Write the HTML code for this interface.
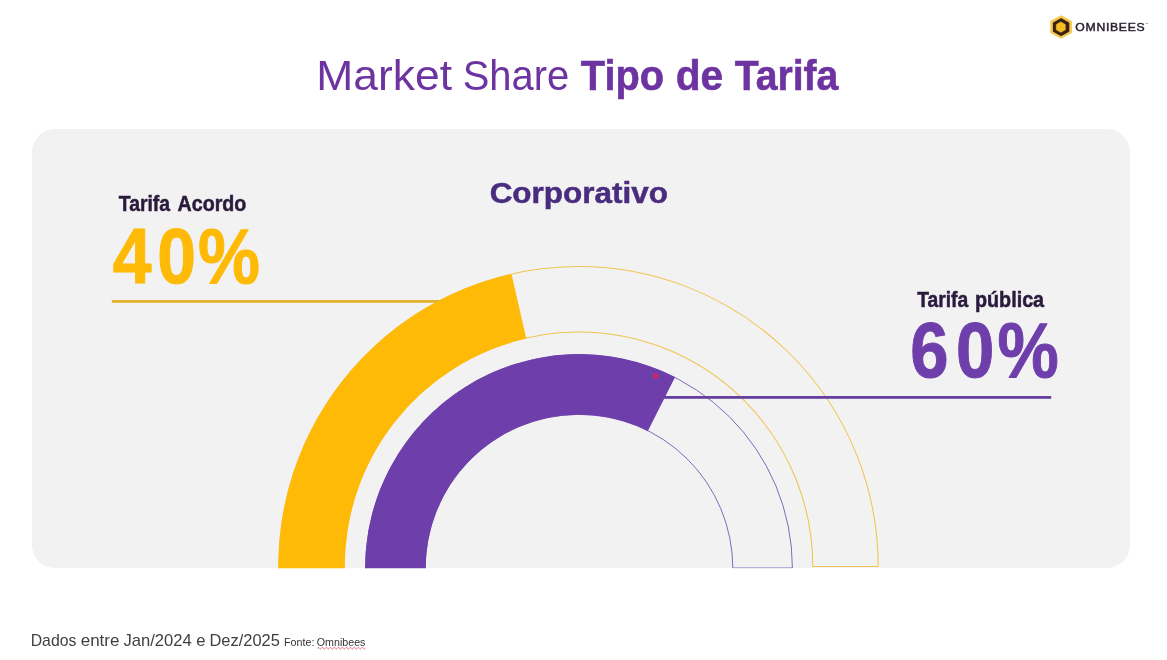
<!DOCTYPE html>
<html lang="pt-BR">
<head>
<meta charset="utf-8">
<title>Market Share Tipo de Tarifa</title>
<style>
html,body{margin:0;padding:0;background:#fff;}
body{width:1167px;height:660px;overflow:hidden;}
svg{display:block;font-family:"Liberation Sans",sans-serif;}
text{white-space:pre;}
</style>
</head>
<body>
<svg width="1167" height="660" viewBox="0 0 1167 660">
<rect width="1167" height="660" fill="#fff"/>
<rect x="32" y="129" width="1098" height="439" rx="23" ry="23" fill="#F2F2F2"/>
<clipPath id="cp"><rect x="0" y="0" width="1167" height="568.2"/></clipPath>
<g clip-path="url(#cp)">
<path d="M278.85 571.73A299.7 299.7 0 1 1 878.20 566.50L812.80 566.50A234.3 234.3 0 1 0 344.24 570.59Z" fill="none" stroke="#F0C450" stroke-width="1.05"/>
<path d="M365.63 571.72A213.4 213.4 0 1 1 792.40 568.00L732.80 568.00A153.8 153.8 0 1 0 425.22 570.68Z" fill="none" stroke="#8468BC" stroke-width="1"/>
<rect x="111.8" y="300" width="335" height="2.8" fill="#E3B22C"/>
<rect x="664" y="396" width="387.2" height="2.8" fill="#65409F"/>
<path d="M278.35 571.74A300.2 300.2 0 0 1 511.48 273.88L526.30 338.60A233.8 233.8 0 0 0 344.74 570.58Z" fill="#FEBA06"/>
<path d="M365.13 571.73A213.9 213.9 0 0 1 675.11 376.91L647.88 431.05A153.3 153.3 0 0 0 425.72 570.68Z" fill="#6E3FAA"/>
</g>
<circle cx="655.8" cy="376" r="2.6" fill="#D4245C"/>
<polygon points="1061.10,16.50 1070.80,21.75 1070.80,32.25 1061.10,37.50 1051.40,32.25 1051.40,21.75" fill="#F4C84E" stroke="#F4C84E" stroke-width="2.2" stroke-linejoin="round"/>
<polygon points="1061.10,18.80 1068.70,22.95 1068.70,31.25 1061.10,35.40 1053.50,31.25 1053.50,22.95" fill="#3A1F13" stroke="#3A1F13" stroke-width="1.2" stroke-linejoin="round"/>
<polygon points="1060.80,21.85 1065.40,24.50 1065.40,29.80 1060.80,32.45 1056.20,29.80 1056.20,24.50" fill="#F4BC25" stroke="#F4BC25" stroke-width="0.4" stroke-linejoin="round"/>
<text x="1145.3" y="25.4" font-size="3" fill="#2B2233">™</text>
<path d="M317.4 648.2q1 -1.6 2 0q1 1.6 2 0q1 -1.6 2 0q1 1.6 2 0q1 -1.6 2 0q1 1.6 2 0q1 -1.6 2 0q1 1.6 2 0q1 -1.6 2 0q1 1.6 2 0q1 -1.6 2 0q1 1.6 2 0q1 -1.6 2 0q1 1.6 2 0q1 -1.6 2 0q1 1.6 2 0q1 -1.6 2 0q1 1.6 2 0q1 -1.6 2 0q1 1.6 2 0q1 -1.6 2 0q1 1.6 2 0q1 -1.6 2 0q1 1.6 2 0" fill="none" stroke="#E0455A" stroke-width="0.8"/>
<text transform="matrix(1.0949 0 0 1 1075.35 31.40)" font-size="11.14" font-weight="normal" fill="#2B2233" stroke="#2B2233" stroke-width="0.45" letter-spacing="0.65">OMNIBEES</text>
<text y="89.70"><tspan x="316.36" textLength="135.67" lengthAdjust="spacingAndGlyphs" font-size="42.88" font-weight="normal" fill="#6D33A0">Market</tspan> <tspan x="462.69" textLength="106.49" lengthAdjust="spacingAndGlyphs" font-size="42.88" font-weight="normal" fill="#6D33A0">Share</tspan> <tspan x="580.85" textLength="83.20" lengthAdjust="spacingAndGlyphs" font-size="42.88" font-weight="bold" fill="#6D33A0" stroke="#6D33A0" stroke-width="0.6">Tipo</tspan> <tspan x="675.63" textLength="47.46" lengthAdjust="spacingAndGlyphs" font-size="42.88" font-weight="bold" fill="#6D33A0" stroke="#6D33A0" stroke-width="0.6">de</tspan> <tspan x="734.66" textLength="103.69" lengthAdjust="spacingAndGlyphs" font-size="42.88" font-weight="bold" fill="#6D33A0" stroke="#6D33A0" stroke-width="0.6">Tarifa</tspan></text>
<text transform="matrix(1.0484 0 0 1 489.66 203.10)" font-size="30.01" font-weight="bold" fill="#4A2C7E" stroke="#4A2C7E" stroke-width="0.5">Corporativo</text>
<text y="210.70"><tspan x="118.73" textLength="51.39" lengthAdjust="spacingAndGlyphs" font-size="21.37" font-weight="bold" fill="#2A1B3D" stroke="#2A1B3D" stroke-width="0.5">Tarifa</tspan> <tspan x="177.56" textLength="68.76" lengthAdjust="spacingAndGlyphs" font-size="21.37" font-weight="bold" fill="#2A1B3D" stroke="#2A1B3D" stroke-width="0.5">Acordo</tspan></text>
<text x="0.00 49.93 95.44" transform="matrix(0.8940 0 0 1 112.67 283.20)" font-size="78.00" font-weight="bold" fill="#FEBA06" stroke="#FEBA06" stroke-width="1" stroke-linejoin="round">40%</text>
<text y="306.80"><tspan x="917.23" textLength="50.99" lengthAdjust="spacingAndGlyphs" font-size="21.51" font-weight="bold" fill="#2A1B3D" stroke="#2A1B3D" stroke-width="0.5">Tarifa</tspan> <tspan x="974.95" textLength="69.18" lengthAdjust="spacingAndGlyphs" font-size="21.51" font-weight="bold" fill="#2A1B3D" stroke="#2A1B3D" stroke-width="0.5">pública</tspan></text>
<text x="0.00 51.63 98.67" transform="matrix(0.8830 0 0 1 910.36 377.10)" font-size="78.00" font-weight="bold" fill="#6E3FAA" stroke="#6E3FAA" stroke-width="1" stroke-linejoin="round">60%</text>
<text y="645.80"><tspan x="30.70" textLength="45.67" lengthAdjust="spacingAndGlyphs" font-size="15.99" font-weight="normal" fill="#404040">Dados</tspan> <tspan x="80.68" textLength="38.78" lengthAdjust="spacingAndGlyphs" font-size="15.99" font-weight="normal" fill="#404040">entre</tspan> <tspan x="123.44" textLength="68.25" lengthAdjust="spacingAndGlyphs" font-size="15.99" font-weight="normal" fill="#404040">Jan/2024</tspan> <tspan x="196.19" textLength="9.24" lengthAdjust="spacingAndGlyphs" font-size="15.99" font-weight="normal" fill="#404040">e</tspan> <tspan x="209.45" textLength="70.44" lengthAdjust="spacingAndGlyphs" font-size="15.99" font-weight="normal" fill="#404040">Dez/2025</tspan> <tspan x="284.02" textLength="30.36" lengthAdjust="spacingAndGlyphs" font-size="10.61" font-weight="normal" fill="#333333">Fonte:</tspan> <tspan x="316.79" textLength="48.69" lengthAdjust="spacingAndGlyphs" font-size="10.61" font-weight="normal" fill="#333333">Omnibees</tspan></text>
</svg>
</body>
</html>
